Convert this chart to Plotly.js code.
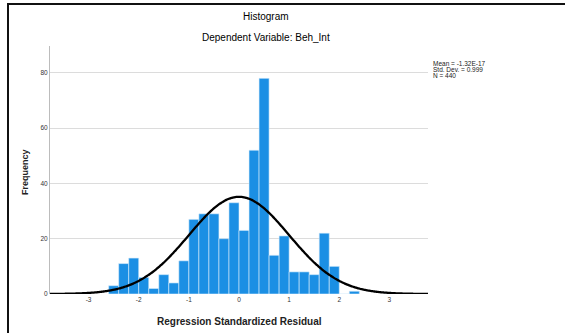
<!DOCTYPE html>
<html>
<head>
<meta charset="utf-8">
<script src="https://cdn.plot.ly/plotly-3.0.1.min.js"></script>
<style>
  html, body { margin: 0; padding: 0; background: #fff; }
  #wrap { position: relative; width: 565px; height: 333px; overflow: hidden; }
  #chart { position: absolute; left: 0; top: 0; width: 565px; height: 333px; }
  #frameTop { position: absolute; left: 7px; top: 3px; width: 558px; height: 2px; background: #111; }
  #frameLeft { position: absolute; left: 7px; top: 3px; width: 2px; height: 330px; background: #111; }
</style>
</head>
<body>
<div id="wrap">
  <div id="chart"></div>
  <div id="frameTop"></div>
  <div id="frameLeft"></div>
</div>
<script>
// Histogram bins (width 0.2) — centres and counts
const binCenters = [-2.5, -2.3, -2.1, -1.9, -1.7, -1.5, -1.3, -1.1, -0.9, -0.7, -0.5, -0.3, -0.1,
                    0.1, 0.3, 0.5, 0.7, 0.9, 1.1, 1.3, 1.5, 1.7, 1.9, 2.1, 2.3];
const binCounts  = [3, 11, 13, 6, 2, 7, 4, 12, 27, 29, 29, 20, 33,
                    23, 52, 78, 14, 21, 8, 8, 7, 22, 10, 0, 1];
const binWidth = 0.2;

// Summary statistics shown in the chart
const statMean = -1.32e-17;
const statSD = 0.999;
const statN = 440;
const statLabels = ["Mean = -1.32E-17", "Std. Dev. = 0.999", "N = 440"];

const xTicks = [-3, -2, -1, 0, 1, 2, 3];
const yTicks = [0, 20, 40, 60, 80];

// Fitted normal curve from the displayed Mean / Std. Dev. / N (as the chart itself does)
const xMin = -3.77, xMax = 3.77;
const curveX = [], curveY = [];
for (let i = 0; i <= 300; i++) {
  const x = xMin + (xMax - xMin) * i / 300;
  const z = (x - statMean) / statSD;
  curveX.push(x);
  curveY.push(statN * binWidth * Math.exp(-0.5 * z * z) / (statSD * Math.sqrt(2 * Math.PI)));
}

const font = "Arial, 'Liberation Sans', sans-serif";

const traces = [
  {
    type: 'bar',
    x: binCenters,
    y: binCounts,
    width: binWidth,
    marker: { color: '#1B8FE4', line: { color: '#d8ecfb', width: 0.6 } },
    hoverinfo: 'x+y'
  },
  {
    type: 'scatter',
    mode: 'lines',
    x: curveX,
    y: curveY,
    line: { color: '#000', width: 2.3, shape: 'spline' },
    hoverinfo: 'skip'
  }
];

const px = p => (p - 50) / 378;      // pixel x -> paper x
const py = p => (294 - p) / 246;     // pixel y -> paper y

const annotations = [
  { text: 'Histogram', x: px(266), y: py(19), xref: 'paper', yref: 'paper', showarrow: false,
    xanchor: 'center', yanchor: 'middle', font: { family: font, size: 10, color: '#000' } },
  { text: 'Dependent Variable: Beh_Int', x: px(266), y: py(40), xref: 'paper', yref: 'paper', showarrow: false,
    xanchor: 'center', yanchor: 'middle', font: { family: font, size: 10, color: '#000' } },
  { text: '<b>Regression Standardized Residual</b>', x: px(239), y: py(321), xref: 'paper', yref: 'paper', showarrow: false,
    xanchor: 'center', yanchor: 'middle', font: { family: font, size: 10, color: '#222' } },
  { text: '<b>Frequency</b>', x: px(25), y: py(173), xref: 'paper', yref: 'paper', showarrow: false,
    textangle: -90, xanchor: 'center', yanchor: 'middle', font: { family: font, size: 9, color: '#222' } }
];
statLabels.forEach((t, i) => {
  annotations.push({ text: t, x: px(431), y: py(65 + i * 6.2), xref: 'paper', yref: 'paper', showarrow: false,
    xanchor: 'left', yanchor: 'middle', font: { family: font, size: 6.5, color: '#222' } });
});

const layout = {
  width: 565, height: 333,
  margin: { l: 50, r: 137, t: 46, b: 39, pad: 0 },
  paper_bgcolor: '#fff', plot_bgcolor: '#fff',
  showlegend: false,
  bargap: 0,
  xaxis: {
    range: [xMin, xMax], tickvals: xTicks, ticktext: xTicks.map(String),
    showgrid: false, zeroline: false, showline: false, ticks: '',
    tickfont: { family: font, size: 6.5, color: '#333' }, fixedrange: true
  },
  yaxis: {
    range: [0, 89.7], tickvals: yTicks, ticktext: yTicks.map(String),
    showgrid: true, gridcolor: '#dcdcdc', gridwidth: 1,
    zeroline: false, showline: true, linecolor: '#bcbcbc', linewidth: 1, ticks: '',
    tickfont: { family: font, size: 6.5, color: '#333' }, fixedrange: true
  },
  annotations: annotations
};

Plotly.newPlot('chart', traces, layout, { displayModeBar: false, staticPlot: true });
</script>
</body>
</html>
